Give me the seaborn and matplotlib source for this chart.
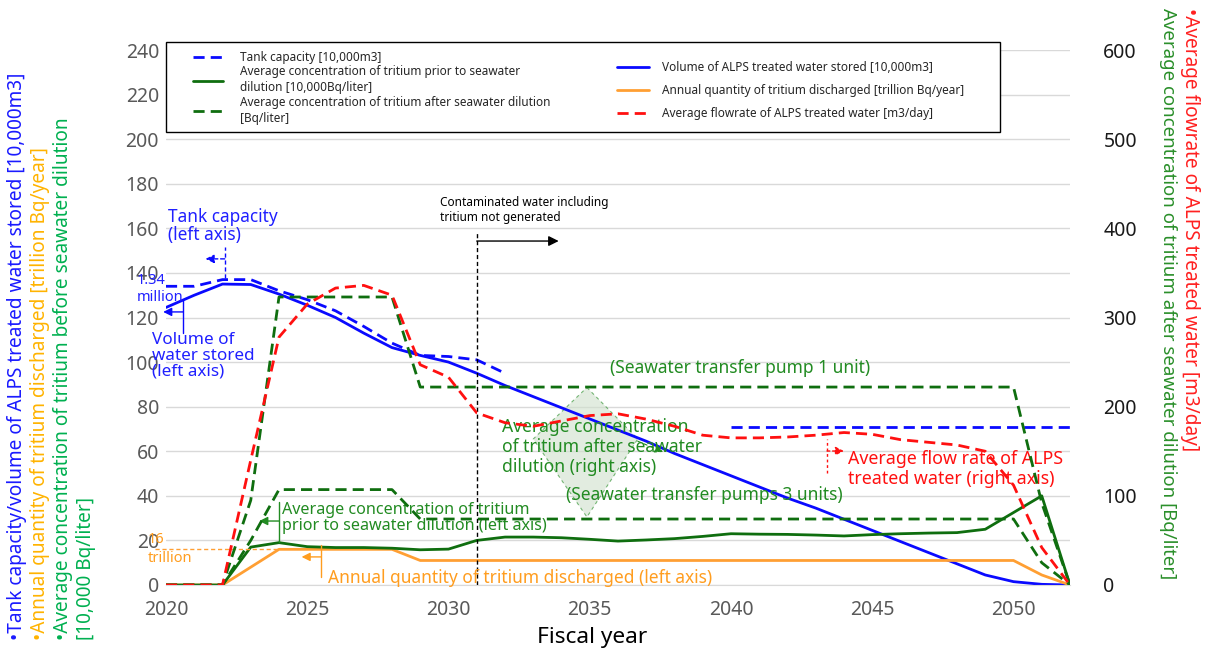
import matplotlib
matplotlib.use('Agg')
import matplotlib.pyplot as plt
import seaborn as sns
from matplotlib.lines import Line2D
from matplotlib.patches import Polygon, Rectangle

# ---- data ----
years = list(range(2020, 2053))

tank_years_a = list(range(2020, 2033))
tank_a = [134, 134, 137, 137, 132, 128, 123, 116, 108.5, 103, 102.5, 101, 95]
tank_years_b = list(range(2040, 2053))
tank_b = [71, 71, 71, 71, 71, 71, 71, 71, 71, 71, 71, 71, 71]

volume = [124.5, 130, 135, 134.8, 130.5, 125.5, 120, 113, 106.5, 103, 100, 95, 89.5,
          84.5, 79.5, 74.5, 69.5, 64.5, 59, 54, 49, 44, 39, 34.5, 29.5, 24.5, 19.5,
          14.5, 9.5, 4.5, 1.5, 0.3, 0]
prior = [0, 0, 0, 17, 19, 17.2, 16.8, 16.8, 16.5, 15.8, 16.1, 20, 21.5, 21.5, 21.2,
         20.5, 19.7, 20.2, 20.8, 21.8, 23, 22.8, 22.7, 22.4, 22, 22.6, 23, 23.3, 23.5,
         25, 32.5, 40, 0]
annual = [0, 0, 0, 8, 16, 16, 16, 16, 16, 11, 11, 11, 11, 11, 11, 11, 11, 11, 11, 11,
          11, 11, 11, 11, 11, 11, 11, 11, 11, 11, 11, 4.5, 0]
# right axis series
flow = [0, 0, 0, 140, 278, 315, 333, 336, 325, 247, 233, 193, 182, 178, 184, 190, 192,
        186, 178, 168, 165, 165, 166, 168, 171, 169, 163, 160, 157, 150, 112, 42, 0]
after_1unit = [0, 0, 0, 95, 323, 323, 323, 323, 323, 222, 222, 222, 222, 222, 222, 222,
               222, 222, 222, 222, 222, 222, 222, 222, 222, 222, 222, 222, 222, 222, 222,
               92, 0]
after_3units = [0, 0, 0, 50, 107, 107, 107, 107, 107, 74, 74, 74, 74, 74, 74, 74, 74, 74,
                74, 74, 74, 74, 74, 74, 74, 74, 74, 74, 74, 74, 74, 25, 0]

left_ticks = list(range(0, 241, 20))
right_ticks = list(range(0, 601, 100))
x_ticks = list(range(2020, 2051, 5))

BLUE = '#0a0aff'
GREEN = '#0f6e0f'
ORANGE = '#ff9f33'
RED = '#ff1010'
TXT_BLUE = '#2020ff'
TXT_GREEN = '#228b22'
TXT_ORANGE = '#ff9d1f'

sns.set_style('white')
plt.rcParams['font.family'] = ['Noto Sans', 'DejaVu Sans']

W, H = 1206, 653
fig = plt.figure(figsize=(W / 100, H / 100), dpi=100)
ax = fig.add_axes([166 / W, 1 - 585 / H, (1070 - 166) / W, (585 - 50) / H])
ax2 = ax.twinx()

dash = (0, (4, 2.2))
lw = 2

# left axis lines
sns.lineplot(x=tank_years_a, y=tank_a, ax=ax, color=BLUE, lw=lw, linestyle=dash)
sns.lineplot(x=tank_years_b, y=tank_b, ax=ax, color=BLUE, lw=lw, linestyle=dash)
sns.lineplot(x=years, y=volume, ax=ax, color=BLUE, lw=lw)
sns.lineplot(x=years, y=annual, ax=ax, color=ORANGE, lw=lw)
sns.lineplot(x=years, y=prior, ax=ax, color=GREEN, lw=lw)
# right axis lines
sns.lineplot(x=years, y=after_1unit, ax=ax2, color=GREEN, lw=lw, linestyle=dash)
sns.lineplot(x=years, y=after_3units, ax=ax2, color=GREEN, lw=lw, linestyle=dash)
sns.lineplot(x=years, y=flow, ax=ax2, color=RED, lw=lw, linestyle=dash)

# axes styling
ax.set_xlim(2020, 2052)
ax.set_ylim(0, 240)
ax2.set_ylim(0, 600)
ax.set_yticks(left_ticks)
ax2.set_yticks(right_ticks)
ax.set_xticks(x_ticks)
ax.set_xticks(years, minor=True)
ax.grid(axis='y', color='#d9d9d9', lw=1)
ax.grid(axis='x', visible=False)
ax2.grid(False)
for a in (ax, ax2):
    for s in a.spines.values():
        s.set_visible(False)
ax.spines['bottom'].set_visible(True)
ax.spines['bottom'].set_color('#d9d9d9')
ax.tick_params(axis='x', which='both', direction='in', length=5, width=1,
               color='#d9d9d9', labelsize=14, labelcolor='#595959', pad=11)
ax.tick_params(axis='y', length=0, labelsize=14, labelcolor='#595959', pad=5)
ax2.tick_params(axis='y', length=0, labelsize=14, labelcolor='#1a1a1a', pad=24)
ax.set_xlabel('Fiscal year', fontsize=16.3, color='black')
ax.xaxis.label.set_va('center')
ax.xaxis.set_label_coords((592 - 166) / 904, -(637 - 585) / 535)
ax.set_ylabel('')
ax2.set_ylabel('')

# left axis title, one coloured line each
left_titles = [
    ('•Tank capacity/volume of ALPS treated water stored [10,000m3]', '#1a1aff', 17),
    ('•Annual quantity of tritium discharged [trillion Bq/year]', '#ffb300', 40),
    ('•Average concentration of tritium before seawater dilution', '#00b050', 63),
    ('[10,000 Bq/liter]', '#00b050', 86),
]
for txt, col, xp in left_titles:
    fig.text(xp / W, 13 / H, txt, rotation=90, ha='center', va='bottom',
             color=col, fontsize=13.7)
fig.text(1190 / W, 1 - 8 / H, '•Average flowrate of ALPS treated water [m3/day]',
         rotation=270, ha='center', va='top', color='#ff2020', fontsize=13.7)
fig.text(1168 / W, 1 - 8 / H,
         'Average concentration of tritium after seawater dilution [Bq/liter]',
         rotation=270, ha='center', va='top', color='#2a8f2a', fontsize=13.4)


def callout(x, y0, y1, ya, xa, color, ls='-'):
    ax.plot([x, x], [y0, y1], color=color, lw=1, ls=ls, clip_on=False)
    ax.annotate('', xy=(xa, ya), xytext=(x, ya), annotation_clip=False,
                arrowprops=dict(arrowstyle='-|>,head_length=0.5,head_width=0.25',
                                color=color, lw=1, ls=ls, shrinkA=0, shrinkB=0))


# annotations (positions in data units)
ax.text(2020.07, 161, 'Tank capacity\n(left axis)', color=TXT_BLUE, fontsize=12.4,
        ha='left', va='center', linespacing=1.05)
callout(2022.08, 137.7, 151.6, 146.3, 2021.4, BLUE, ls=(0, (3, 2)))
ax.text(2018.95, 132.8, '1.34\nmillion', color=TXT_BLUE, fontsize=10.5, ha='left',
        va='center', linespacing=1.15)
ax.text(2019.5, 102.8, 'Volume of\nwater stored\n(left axis)', color=TXT_BLUE,
        fontsize=12.3, ha='left', va='center', linespacing=0.95)
callout(2020.6, 113, 127.9, 122.5, 2019.9, BLUE)

ax.text(2029.7, 168.2, 'Contaminated water including\ntritium not generated',
        color='black', fontsize=8.5, ha='left', va='center')
ax.plot([2031, 2031], [0, 158], color='black', lw=1, ls=(0, (3, 2)))
ax.annotate('', xy=(2033.9, 154.3), xytext=(2031, 154.3),
            arrowprops=dict(arrowstyle='-|>,head_length=0.6,head_width=0.3',
                            color='black', lw=1, shrinkA=0, shrinkB=0))

ax.add_patch(Polygon([(2034.9, 88.6), (2036.7, 65.5), (2034.9, 30.5), (2033.0, 65.5)],
                     closed=True, facecolor='#cfe0cc', alpha=0.6, edgecolor=TXT_GREEN,
                     lw=0.8, ls=(0, (3, 3))))
ax.annotate('', xy=(2037.6, 59.7), xytext=(2036.7, 64.5),
            arrowprops=dict(arrowstyle='-|>,head_length=0.5,head_width=0.25',
                            color=TXT_GREEN, lw=0.8, ls=(0, (3, 3)),
                            shrinkA=0, shrinkB=0))
ax.text(2035.72, 97.35, '(Seawater transfer pump 1 unit)', color=TXT_GREEN,
        fontsize=12.5, ha='left', va='center')
ax.text(2031.9, 61.9, 'Average concentration\nof tritium after seawater\ndilution (right axis)',
        color=TXT_GREEN, fontsize=12.6, ha='left', va='center', linespacing=1.12)
ax.text(2034.16, 40.4, '(Seawater transfer pumps 3 units)', color=TXT_GREEN,
        fontsize=12.5, ha='left', va='center')

ax.text(2024.1, 30.06, 'Average concentration of tritium\nprior to seawater dilution (left axis)',
        color=TXT_GREEN, fontsize=11.6, ha='left', va='center', linespacing=1.05)
callout(2024.0, 19.3, 37.2, 28.7, 2023.3, TXT_GREEN)

ax.text(2019.36, 16.15, '16\ntrillion', color=TXT_ORANGE, fontsize=10.5, ha='left',
        va='center', linespacing=1.3)
ax.plot([2019.6, 2024], [16, 16], color=ORANGE, lw=1, ls=(0, (3, 2)), clip_on=False)
ax.text(2025.73, 3.14, 'Annual quantity of tritium discharged (left axis)',
        color=TXT_ORANGE, fontsize=12.5, ha='left', va='center')
callout(2025.5, 3.6, 17.9, 12.6, 2024.8, TXT_ORANGE)

ax.text(2044.14, 52.0, 'Average flow rate of ALPS\ntreated water (right axis)',
        color=RED, fontsize=12.8, ha='left', va='center', linespacing=1.18)
callout(2043.4, 50.2, 65.5, 60.1, 2044.0, RED, ls=(0, (2, 2)))

# legend box with two frameless columns inside
fig.add_artist(Rectangle((166 / W, 1 - 132 / H), (1000 - 166) / W, 90 / H,
                         transform=fig.transFigure, facecolor='white',
                         edgecolor='black', lw=1, zorder=5))
h_tank = Line2D([], [], color=BLUE, lw=lw, ls=dash)
h_prior = Line2D([], [], color=GREEN, lw=lw)
h_after = Line2D([], [], color=GREEN, lw=lw, ls=dash)
h_vol = Line2D([], [], color=BLUE, lw=lw)
h_ann = Line2D([], [], color=ORANGE, lw=lw)
h_flow = Line2D([], [], color=RED, lw=lw, ls=dash)
leg_kw = dict(frameon=False, fontsize=8.5, borderpad=0, borderaxespad=0,
              loc='upper left')
leg1 = fig.legend([h_tank, h_prior, h_after],
                  ['Tank capacity [10,000m3]',
                   'Average concentration of tritium prior to seawater\ndilution [10,000Bq/liter]',
                   'Average concentration of tritium after seawater dilution\n[Bq/liter]'],
                  bbox_to_anchor=(193 / W, 1 - 51 / H), handlelength=2.5,
                  handletextpad=1.5, labelspacing=0.12, **leg_kw)
leg2 = fig.legend([h_vol, h_ann, h_flow],
                  ['Volume of ALPS treated water stored [10,000m3]',
                   'Annual quantity of tritium discharged [trillion Bq/year]',
                   'Average flowrate of ALPS treated water [m3/day]'],
                  bbox_to_anchor=(617 / W, 1 - 61 / H), handlelength=2.7,
                  handletextpad=1.1, labelspacing=0.85, **leg_kw)
for t in leg1.get_texts():
    t.set_linespacing(1.3)
leg1.set_zorder(6)
leg2.set_zorder(6)

fig.savefig('out.png', dpi=100)
